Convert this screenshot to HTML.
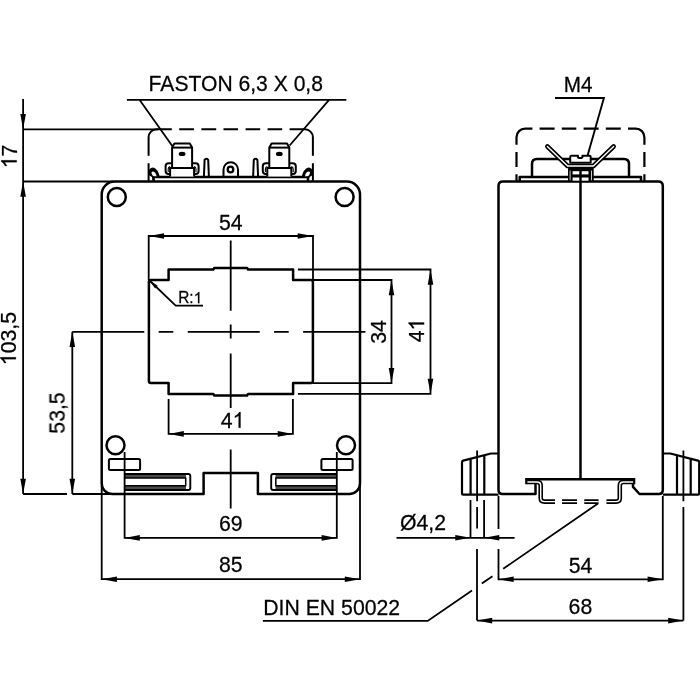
<!DOCTYPE html>
<html><head><meta charset="utf-8">
<style>
html,body{margin:0;padding:0;background:#fff;}
svg{display:block;}
#txt{opacity:0.999}
text{font-family:"Liberation Sans",sans-serif;fill:#000;stroke:#000;stroke-width:0.25;}
.k{stroke:#000;stroke-width:2.5;fill:none;stroke-linejoin:round;stroke-linecap:butt}
.kw{stroke:#000;stroke-width:2.5;fill:#fff;stroke-linejoin:round}
.t{stroke:#000;stroke-width:1.8;fill:none}
.a{fill:#000;stroke:none}
.k2{stroke:#000;stroke-width:2;fill:none;stroke-linejoin:round}
.kw2{stroke:#000;stroke-width:2;fill:#fff;stroke-linejoin:round}
</style></head><body>
<svg width="700" height="700" viewBox="0 0 700 700">
<rect width="700" height="700" fill="#fff"/>

<!-- ================= LEFT VIEW ================= -->
<g id="left">
<!-- body outline -->
<path class="k" d="M114.7,181.5 H347 A13,13 0 0 1 360,194.5 V483.5 A10.5,10.5 0 0 1 349.5,494 H257.9 V472.9 H203.6 V494 H112.2 A10.5,10.5 0 0 1 101.7,483.5 V194.5 A13,13 0 0 1 114.7,181.5 Z"/>
<!-- window -->
<path class="k" d="M148.9,381.1 V282 Q148.9,280 150.9,280 H168.6 V269.6 H213.3 L214.3,267.9 H247.1 L248.1,269.6 H293.1 V280 H310.9 Q312.9,280 312.9,282 V381.1 Q312.9,383.1 310.9,383.1 H293.1 V393.9 H248.1 L247.1,395.5 H214.3 L213.3,393.9 H168.6 V383.1 H150.9 Q148.9,383.1 148.9,381.1 Z"/>
<!-- circles -->
<circle class="k" cx="116.8" cy="196.9" r="9"/>
<circle class="k" cx="344.6" cy="196.9" r="9"/>
<circle class="k" cx="115.5" cy="445.3" r="9"/>
<circle class="k" cx="346" cy="445.3" r="9"/>
<!-- small rects -->
<rect class="k2" x="108.9" y="459" width="31.2" height="11" rx="1.5"/>
<rect class="k2" x="321.4" y="459" width="31.2" height="11" rx="1.5"/>
<!-- slots -->
<g id="slotL">
<rect x="125" y="474" width="61" height="4" fill="#4a4a4a"/>
<rect x="125" y="485.8" width="61" height="4.2" fill="#4a4a4a"/>
<path class="k2" style="stroke-width:1.9" d="M125,474 H188.3 Q190.3,474 190.3,476 V488 Q190.3,490 188.3,490 H125"/>
<path class="k2" style="stroke-width:1.5" d="M125,478.1 H185.7 V485.7 H125"/>
</g>
<g id="slotR">
<rect x="275.5" y="474" width="61" height="4" fill="#4a4a4a"/>
<rect x="275.5" y="485.8" width="61" height="4.2" fill="#4a4a4a"/>
<path class="k2" style="stroke-width:1.9" d="M336.5,474 H273.2 Q271.2,474 271.2,476 V488 Q271.2,490 273.2,490 H336.5"/>
<path class="k2" style="stroke-width:1.5" d="M336.5,478.1 H275.8 V485.7 H336.5"/>
</g>

<!-- top terminals -->
<path class="k" d="M153.5,181.5 V177 H308 V181.5"/>
<!-- dashed cover -->
<path class="k2" d="M148.6,181.5 V163.3 M148.6,155.7 V137.3 A8,8 0 0 1 156.6,129.3 H171.8 M179.2,129.3 H194 M201.4,129.3 H216.2 M223.5,129.3 H238 M245.6,129.3 H260.2 M267.6,129.3 H282.2 M289.6,129.3 H304.9 A8,8 0 0 1 312.9,137.3 V155.7 M312.9,163.3 V181.5"/>
<!-- left terminal -->
<g id="termL">
<path class="kw2" d="M170.1,176.6 V167.9 H194.1 V176.6"/>
<path class="kw2" d="M172.1,167.9 V147.6 L174.4,143.6 H189.8 L192.1,147.6 V167.9 Z"/>
<path class="k2" d="M172.1,147.6 H192.1"/>
<ellipse cx="182.1" cy="153.9" rx="3.4" ry="2.2" class="a"/>
<path class="k2" d="M172.1,163.2 H168.7 Q165.6,163.2 165.6,166.3 V171 Q165.6,174.1 168.7,174.1 H170.1"/>
<path class="k2" style="stroke-width:1.1" d="M170.1,166.5 Q168.2,167 168.2,169 V172"/>
<path class="k2" d="M192.1,163.2 H195.5 Q198.6,163.2 198.6,166.3 V171 Q198.6,174.1 195.5,174.1 H194.1"/>
<path class="k2" style="stroke-width:1.1" d="M194.1,166.5 Q196.0,167 196.0,169 V172"/>
</g>
<g id="termR">
<path class="kw2" d="M267.3,176.6 V167.9 H291.3 V176.6"/>
<path class="kw2" d="M269.3,167.9 V147.6 L271.6,143.6 H287.0 L289.3,147.6 V167.9 Z"/>
<path class="k2" d="M269.3,147.6 H289.3"/>
<ellipse cx="279.3" cy="153.9" rx="3.4" ry="2.2" class="a"/>
<path class="k2" d="M269.3,163.2 H265.9 Q262.8,163.2 262.8,166.3 V171 Q262.8,174.1 265.9,174.1 H267.3"/>
<path class="k2" style="stroke-width:1.1" d="M267.3,166.5 Q265.4,167 265.4,169 V172"/>
<path class="k2" d="M289.3,163.2 H292.7 Q295.8,163.2 295.8,166.3 V171 Q295.8,174.1 292.7,174.1 H291.3"/>
<path class="k2" style="stroke-width:1.1" d="M291.3,166.5 Q293.2,167 293.2,169 V172"/>
</g>
<!-- pins -->
<path class="k2" d="M203.9,177 L204.6,159.8 Q206.4,157.6 208.2,159.8 L208.9,177"/>
<path class="k2" d="M253.1,177 L253.8,159.8 Q255.6,157.6 257.4,159.8 L258.1,177"/>
<!-- centre lug -->
<path class="k2" d="M223.5,177 V169.5 A7.25,7.25 0 0 1 238,169.5 V177"/>
<circle class="k2" style="stroke-width:2.3" cx="230.5" cy="169.5" r="2.8"/>
<!-- hooks -->
<path d="M160.0,177.6 Q157.9,168.6 153.2,167.6 Q149.9,167.6 148.3,171.5 L149.3,175.6 L152.0,177 V178 H154.7,178 Z" fill="#000"/>
<path d="M156.6,176.2 Q155.5,171.8 153.2,171.5 Q150.9,171.6 151.7,173.8 Q152.2,175 153.3,176.2 Z" fill="#fff"/>
<path class="k2" d="M153.5,176.4 V181"/>
<path d="M301.5,177.6 Q303.6,168.6 308.3,167.6 Q311.6,167.6 313.2,171.5 L312.2,175.6 L309.5,177 V178 H306.8,178 Z" fill="#000"/>
<path d="M304.9,176.2 Q306.0,171.8 308.3,171.5 Q310.6,171.6 309.8,173.8 Q309.3,175 308.2,176.2 Z" fill="#fff"/>
<path class="k2" d="M308.0,176.4 V181"/>
</g>

<!-- ================= RIGHT VIEW ================= -->
<g id="right">
<!-- body -->
<path class="k" d="M535.5,483.5 V494 H502.5 Q498.5,494 498.5,490 V186 Q498.5,181.5 503,181.5 H658.3 Q662.8,181.5 662.8,186 V490 Q662.8,494 658.8,494 H639.5 L633,486.8 V483.5"/>
<path class="k" d="M580.5,181.5 V479"/>
<!-- feet -->
<path class="k2" style="stroke-width:2.2" d="M498.5,453.5 H491 L463.2,460.6 Q462,461 462,462.2 V493.4 Q462,494.6 463.2,494.6 H498.5"/>
<path class="k2" style="stroke-width:2.2" d="M470.6,459 V494.6 M484.3,455.4 V494.6"/>
<path class="k2" style="stroke-width:2.2" d="M662.8,453.5 H670.3 L698,460.6 Q699.2,461 699.2,462.2 V493.4 Q699.2,494.6 698,494.6 H662.8"/>
<path class="k2" style="stroke-width:2.2" d="M690.7,459 V494.6 M677,455.4 V494.6"/>
<!-- DIN rail -->
<path d="M526.5,482 H537 Q540.7,482 540.7,485.5 V498 Q540.7,501.6 544.5,501.6 H555" stroke="#000" stroke-width="4.6" fill="none"/>
<path d="M526.5,482 H537 Q540.7,482 540.7,485.5 V498 Q540.7,501.6 544.5,501.6 H555" stroke="#fff" stroke-width="1.4" fill="none"/>
<path d="M634,482 H623.5 Q619.8,482 619.8,485.5 V498 Q619.8,501.6 616,501.6 H606.5" stroke="#000" stroke-width="4.6" fill="none"/>
<path d="M634,482 H623.5 Q619.8,482 619.8,485.5 V498 Q619.8,501.6 616,501.6 H606.5" stroke="#fff" stroke-width="1.4" fill="none"/>
<path d="M562,501.6 H577 M584.3,501.6 H598.5" stroke="#000" stroke-width="4.6" fill="none"/>
<path d="M562,501.6 H577 M584.3,501.6 H598.5" stroke="#fff" stroke-width="1.4" fill="none"/>
<path d="M525.5,479.3 H635" stroke="#000" stroke-width="2.6" fill="none"/>
<path d="M526.3,478 V484.2 M634.2,478 V484.2" stroke="#000" stroke-width="2.2" fill="none"/>

<!-- top parts -->
<path class="k" d="M519.7,181.5 V176.9 H641 V181.5"/>
<path class="k" d="M532,176.9 V164.1 Q532,159.1 537,159.1 H624 Q629,159.1 629,164.1 V176.9"/>
<!-- dashed cover -->
<path d="M516.5,181.5 V174.3 M516.5,167 V152 M516.5,144.8 V137.2 A8.6,8.6 0 0 1 525.1,128.6 H532.4 M539.6,128.6 H554.6 M561.8,128.6 H576.3 M583.6,128.6 H598.6 M605.8,128.6 H620.8 M628,128.6 H635.8 A8.6,8.6 0 0 1 644.4,137.2 V144.8 M644.4,152 V167 M644.4,174.3 V181.5" stroke="#000" stroke-width="2.2" fill="none"/>
<!-- wing -->
<path d="M547.4,146.5 L567.6,166 H593.4 L613.6,146.5" stroke="#000" stroke-width="4.7" fill="none" stroke-linecap="round" stroke-linejoin="round"/>
<path d="M547.4,146.5 L567.6,166 H593.4 L613.6,146.5" stroke="#fff" stroke-width="1.4" fill="none" stroke-linecap="round" stroke-linejoin="round"/>
<!-- screw head -->
<path class="kw2" d="M570.2,162.8 V157 Q570.2,155.7 571.5,155.7 H578 V157.3 Q580.2,158.8 582.4,157.3 V155.7 H589.4 Q590.7,155.7 590.7,157 V162.8 Z"/>
<!-- nut -->
<rect x="568" y="167" width="25.7" height="14.6" fill="#000"/>
<rect x="572.6" y="171.2" width="6.7" height="3.2" fill="#fff"/>
<rect x="581.7" y="171.2" width="6.8" height="3.2" fill="#fff"/>
<rect x="572.6" y="177.5" width="6.7" height="3.2" fill="#fff"/>
<rect x="581.7" y="177.5" width="6.8" height="3.2" fill="#fff"/>
<path d="M570.1,170.6 V180.3 M591.5,170.6 V180.3" stroke="#fff" stroke-width="0.8" fill="none"/>
</g>

<!-- ================= DIMENSIONS ================= -->
<g id="dims">
<!-- 17 & 103.5 -->
<path class="t" d="M23.1,99 V494 M23.1,129.3 H158 M23.1,181.5 H113 M23.1,494 H67 M72.3,494 H112"/>
<path class="a" d="M23.1,129.3 l-2.8,-15.2 h5.6 z M23.1,181.5 l-2.8,15.2 h5.6 z M23.1,494 l-2.8,-15.2 h5.6 z"/>
<!-- 53.5 -->
<path class="t" d="M72.3,331.8 V494"/>
<path class="a" d="M72.3,331.8 l-2.8,15.2 h5.6 z M72.3,494 l-2.8,-15.2 h5.6 z"/>
<!-- centre lines -->
<path class="t" d="M72.3,331.8 H365.4" stroke-dasharray="72 14.4 14.6 14.4"/>
<path class="t" d="M230.7,240.5 V310.8 M230.7,324.4 V338.5 M230.7,353.4 V408 M230.7,449.6 V508.5"/>
<!-- 54 top -->
<path class="t" d="M148.7,280 V236 H313 V280"/>
<path class="a" d="M148.9,236 l15.2,-2.8 v5.6 z M312.9,236 l-15.2,-2.8 v5.6 z"/>
<!-- 41 bottom -->
<path class="t" d="M168.6,399 V433.9 H292.9 V399"/>
<path class="a" d="M168.6,433.9 l15.2,-2.8 v5.6 z M292.9,433.9 l-15.2,-2.8 v5.6 z"/>
<!-- 34, 41 right -->
<path class="t" d="M312.9,280 H391.5 V383.1 H312.9 M297.9,269.5 H430.5 V393.9 H297.9"/>
<path class="a" d="M391.5,280 l-2.8,15.2 h5.6 z M391.5,383.1 l-2.8,-15.2 h5.6 z M430.5,269.5 l-2.8,15.2 h5.6 z M430.5,393.9 l-2.8,-15.2 h5.6 z"/>
<!-- 69 / 85 -->
<path class="t" d="M124.6,452 V537.9 H336.8 V452 M101.7,486 V579.2 H360 V486"/>
<path class="a" d="M124.6,537.9 l15.2,-2.8 v5.6 z M336.8,537.9 l-15.2,-2.8 v5.6 z M101.7,579.2 l15.2,-2.8 v5.6 z M360,579.2 l-15.2,-2.8 v5.6 z"/>
<!-- R:1 -->
<path class="t" d="M149.5,280.5 L175.7,305.7 H203"/>
<path class="a" d="M149.3,280.3 L155.1,288.5 L157.7,285.8 z"/>
<!-- FASTON -->
<path class="t" d="M126.9,99.8 H346.3 M139.5,99.8 L172.3,146 M329.1,99.8 L289.6,145.5"/>
<!-- M4 -->
<path class="t" style="stroke-width:1.9" d="M555,98 H603.9 L587.6,155.5"/>
<!-- Ø4,2 -->
<path class="t" d="M396.5,537.8 H514.6 M470.5,500 V537.8 M484.1,500 V537.8"/>
<path class="a" d="M470.5,537.8 l-15.2,-2.8 v5.6 z M484.1,537.8 l15.2,-2.8 v5.6 z"/>
<path class="t" d="M477.1,450.6 V501.2 M477.1,507 V528.6 M477,549 V620.6"/>
<path class="t" d="M683.4,450.6 V501.2 M683.4,507 V620.6"/>
<!-- 54 / 68 right -->
<path class="t" d="M498.5,496 V529 M498.5,549 V579.3 H662.8 V496 M477,620.6 H683.4"/>
<path class="a" d="M498.5,579.3 l15.2,-2.8 v5.6 z M662.8,579.3 l-15.2,-2.8 v5.6 z M477,620.6 l15.2,-2.8 v5.6 z M683.4,620.6 l-15.2,-2.8 v5.6 z"/>
<!-- DIN leader -->
<path class="t" d="M262.9,620.9 H427.7 L472,590.5 M481.8,583.6 L492.5,576.2 M503.2,568.8 L598,503.5"/>
</g>

<!-- ================= TEXT ================= -->
<g id="txt">
<text transform="translate(235.8,90.9) scale(1,1.065)" text-anchor="middle" font-size="21.12">FASTON 6,3 X 0,8</text>
<text transform="translate(578.1,91.7) scale(1,1.065)" text-anchor="middle" font-size="20.7">M4</text>
<text transform="translate(230.8,229.9) scale(1,1.065)" text-anchor="middle" font-size="21.25">54</text>
<g transform="translate(232.6,427.7) scale(1,1.065)"><text x="-11.82" y="0" font-size="21.25">4</text><path transform="translate(0.00,0) scale(0.01038,-0.01038)" d="M763,0 L583,0 L583,1098 Q518,1039 412,980 Q307,920 223,890 L223,1057 Q374,1125 487,1221 Q600,1318 647,1409 L763,1409 Z" fill="#000" stroke="#000" stroke-width="24"/></g>
<text transform="translate(230.8,531.4) scale(1,1.065)" text-anchor="middle" font-size="21.25">69</text>
<text transform="translate(230.8,572.3) scale(1,1.065)" text-anchor="middle" font-size="21.25">85</text>
<text transform="translate(263.2,614.8) scale(1,1.065)" text-anchor="start" font-size="21.25">DIN EN 50022</text>
<text transform="translate(400,530.3) scale(1,1.065)" text-anchor="start" font-size="21.25">Ø4,2</text>
<text transform="translate(580.5,572.6) scale(1,1.065)" text-anchor="middle" font-size="21.25">54</text>
<text transform="translate(580.4,614) scale(1,1.065)" text-anchor="middle" font-size="21.25">68</text>
<g transform="translate(16.7,156.4) rotate(-90) scale(1,1.065)"><path transform="translate(-11.82,0) scale(0.01038,-0.01038)" d="M763,0 L583,0 L583,1098 Q518,1039 412,980 Q307,920 223,890 L223,1057 Q374,1125 487,1221 Q600,1318 647,1409 L763,1409 Z" fill="#000" stroke="#000" stroke-width="24"/><text x="0.00" y="0" font-size="21.25">7</text></g>
<g transform="translate(15.9,338.6) rotate(-90) scale(1,1.065)"><path transform="translate(-26.59,0) scale(0.01038,-0.01038)" d="M763,0 L583,0 L583,1098 Q518,1039 412,980 Q307,920 223,890 L223,1057 Q374,1125 487,1221 Q600,1318 647,1409 L763,1409 Z" fill="#000" stroke="#000" stroke-width="24"/><text x="-14.77" y="0" font-size="21.25">03,5</text></g>
<text transform="translate(64.9,413) rotate(-90) scale(1,1.065)" text-anchor="middle" font-size="21.25">53,5</text>
<text transform="translate(385.7,332) rotate(-90) scale(1,1.065)" text-anchor="middle" font-size="21.25">34</text>
<g transform="translate(424.1,330.5) rotate(-90) scale(1,1.065)"><text x="-11.82" y="0" font-size="21.25">4</text><path transform="translate(0.00,0) scale(0.01038,-0.01038)" d="M763,0 L583,0 L583,1098 Q518,1039 412,980 Q307,920 223,890 L223,1057 Q374,1125 487,1221 Q600,1318 647,1409 L763,1409 Z" fill="#000" stroke="#000" stroke-width="24"/></g>
<g transform="translate(178.2,303.2) scale(1,1.065)"><text x="0.00" y="0" font-size="15.4">R:</text><path transform="translate(15.40,0) scale(0.00752,-0.00752)" d="M763,0 L583,0 L583,1098 Q518,1039 412,980 Q307,920 223,890 L223,1057 Q374,1125 487,1221 Q600,1318 647,1409 L763,1409 Z" fill="#000" stroke="#000" stroke-width="33"/></g>
</g>
</svg>
</body></html>
